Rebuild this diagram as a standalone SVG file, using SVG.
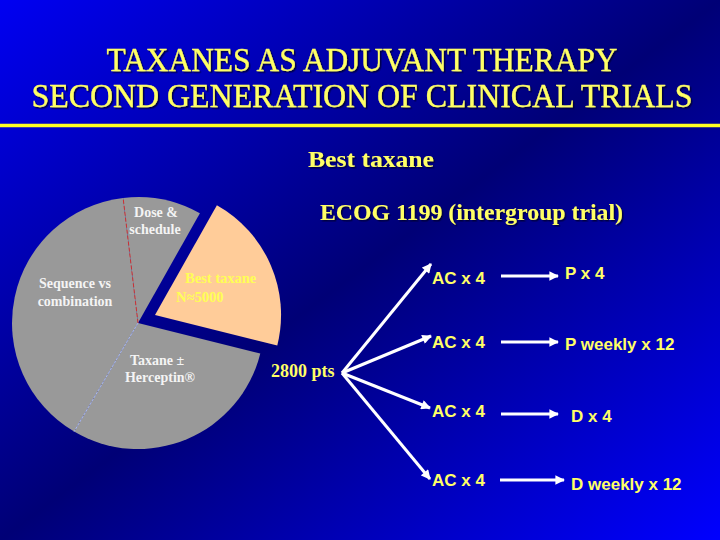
<svg xmlns="http://www.w3.org/2000/svg" width="720" height="540" viewBox="0 0 720 540">
  <defs>
    <linearGradient id="bg" x1="0" y1="0" x2="1" y2="1">
      <stop offset="0" stop-color="#0000F2"/>
      <stop offset="0.5" stop-color="#000076"/>
      <stop offset="1" stop-color="#0000FF"/>
    </linearGradient>
    <filter id="sh" filterUnits="userSpaceOnUse" x="0" y="0" width="720" height="540">
      <feDropShadow dx="1.5" dy="1.5" stdDeviation="0.5" flood-color="#000033" flood-opacity="0.8"/>
    </filter>
    <marker id="ah" viewBox="0 0 10 10" refX="9" refY="5" markerWidth="3.6" markerHeight="3.2" orient="auto" markerUnits="strokeWidth">
      <path d="M0,0 L10,5 L0,10 Z" fill="#FFFFFF"/>
    </marker>
    <style>
      .title { font-family: "Liberation Serif", "Times New Roman", serif; font-size: 33px; fill: #FFFF66; text-anchor: middle; stroke: #FFFF66; stroke-width: 0.3; filter: url(#sh); }
      .head { font-family: "Liberation Serif", "Times New Roman", serif; font-weight: bold; font-size: 23px; fill: #FFFF66; filter: url(#sh); }
      .pie { font-family: "Liberation Serif", "Times New Roman", serif; font-weight: bold; font-size: 14px; fill: #F4F4F4; text-anchor: middle; }
      .pieY { font-family: "Liberation Serif", "Times New Roman", serif; font-weight: bold; font-size: 14.5px; fill: #FFFF55; }
      .arm { font-family: "Liberation Sans", Arial, sans-serif; font-weight: bold; font-size: 17px; fill: #FFFF66; }
      .pts { font-family: "Liberation Serif", "Times New Roman", serif; font-weight: bold; font-size: 18px; fill: #FFFF66; }
      .gray { fill: #999999; }
      .conn { stroke: #FFFFFF; stroke-width: 3; fill: none; marker-end: url(#ah); }
    </style>
  </defs>

  <rect x="0" y="0" width="720" height="540" fill="url(#bg)"/>

  <g id="title">
    <text class="title" x="362" y="71" textLength="511" lengthAdjust="spacingAndGlyphs">TAXANES AS ADJUVANT THERAPY</text>
    <text class="title" x="362" y="107" textLength="661" lengthAdjust="spacingAndGlyphs">SECOND GENERATION OF CLINICAL TRIALS</text>
    <line x1="0" y1="125.5" x2="720" y2="125.5" stroke="#FFFF22" stroke-width="3.5"/>
  </g>

  <g id="headings">
    <text class="head" x="308" y="167" textLength="126" lengthAdjust="spacingAndGlyphs">Best taxane</text>
    <text class="head" x="320" y="220" textLength="303" lengthAdjust="spacingAndGlyphs">ECOG 1199 (intergroup trial)</text>
  </g>

  <g id="pie">
    <g id="slice-dose">
      <path class="gray" d="M138,323 L123.1,197.9 A126,126 0 0 1 199.9,213.2 Z"/>
      <text class="pie" x="156" y="217">Dose &amp;</text>
      <text class="pie" x="155" y="234">schedule</text>
    </g>
    <g id="slice-herceptin">
      <path class="gray" d="M138,323 L260.3,353.5 A126,126 0 0 1 74.1,431.6 Z"/>
      <text class="pie" x="157" y="365">Taxane ±</text>
      <text class="pie" x="160" y="382">Herceptin®</text>
    </g>
    <g id="slice-sequence">
      <path class="gray" d="M138,323 L74.1,431.6 A126,126 0 0 1 123.1,197.9 Z"/>
      <text class="pie" x="75" y="288">Sequence vs</text>
      <text class="pie" x="75" y="306">combination</text>
    </g>
    <line x1="138" y1="323" x2="123.1" y2="197.9" stroke="#D03030" stroke-width="1" stroke-dasharray="4 2"/>
    <line x1="138" y1="323" x2="74.1" y2="431.6" stroke="#A8B8F0" stroke-width="1" stroke-dasharray="3 1"/>
    <g id="slice-best">
      <path d="M155,315 L216.9,205.2 A126,126 0 0 1 277.3,345.5 Z" fill="#FFCC99"/>
      <text class="pieY" x="185" y="283">Best taxane</text>
      <text class="pieY" x="176" y="302">N≈5000</text>
    </g>
  </g>

  <g id="pts">
    <text class="pts" x="271" y="377">2800 pts</text>
  </g>

  <g id="arms">
    <g id="arm1"><text class="arm" x="432" y="284">AC x 4</text><text class="arm" x="565" y="279">P x 4</text></g>
    <g id="arm2"><text class="arm" x="432" y="348">AC x 4</text><text class="arm" x="565" y="350">P weekly x 12</text></g>
    <g id="arm3"><text class="arm" x="432" y="417">AC x 4</text><text class="arm" x="571" y="422">D x 4</text></g>
    <g id="arm4"><text class="arm" x="432" y="486">AC x 4</text><text class="arm" x="571" y="490">D weekly x 12</text></g>
  </g>

  <g id="connectors">
    <line class="conn" x1="342" y1="373" x2="431" y2="264"/>
    <line class="conn" x1="342" y1="373" x2="431" y2="336"/>
    <line class="conn" x1="342" y1="373" x2="430" y2="408"/>
    <line class="conn" x1="342" y1="373" x2="430" y2="479"/>
    <line class="conn" x1="501" y1="276" x2="558" y2="276"/>
    <line class="conn" x1="501" y1="342" x2="558" y2="342"/>
    <line class="conn" x1="501" y1="414" x2="558" y2="414"/>
    <line class="conn" x1="500" y1="480" x2="564" y2="480"/>
  </g>
</svg>
